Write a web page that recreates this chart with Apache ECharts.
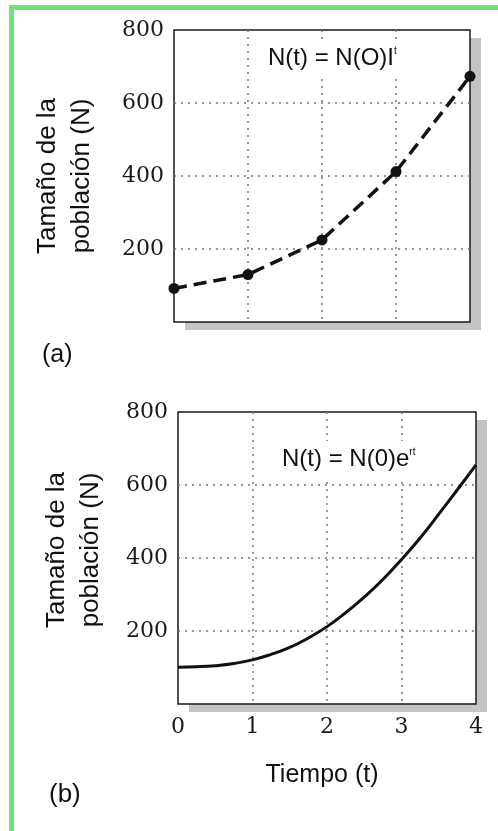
<!DOCTYPE html>
<html>
<head>
<meta charset="utf-8">
<script src="https://cdn.jsdelivr.net/npm/echarts@6/dist/echarts.min.js"></script>
<style>
    html, body { margin: 0; padding: 0; background: #fff; }
    #chart { width: 498px; height: 831px; }
</style>
</head>
<body>
<div id="chart"></div>
<script>
// (a) discrete growth, read from the points
const tiempoA = [0, 1, 2, 3, 4];
const poblacionA = [92, 130, 225, 412, 673];
// (b) continuous growth, every quarter step
const tiempoB = [0, 0.25, 0.5, 0.75, 1, 1.25, 1.5, 1.75, 2, 2.25, 2.5, 2.75, 3, 3.25, 3.5, 3.75, 4];
const poblacionB = [101, 102, 105, 111, 121, 136, 155, 181, 212, 250, 293, 341, 396, 455, 520, 587, 655];
const yTicks = [0, 200, 400, 600, 800];
const xTicks = [0, 1, 2, 3, 4];

const serif = 'DejaVu Serif';
const sans = 'Liberation Sans';
const dotted = {type: [2, 5], color: '#777', width: 1.5};

function pares(xs, ys) {
    return xs.map((x, i) => [x, ys[i]]);
}

function ejeY(idx, visible) {
    return {
        type: 'value', gridIndex: idx, show: visible,
        min: yTicks[0], max: yTicks[yTicks.length - 1], interval: 200,
        axisLine: {show: false}, axisTick: {show: false},
        axisLabel: {
            margin: 10, fontFamily: serif, fontSize: 22, color: '#1a1a1a',
            formatter: v => v === 0 ? '' : String(v)
        },
        splitLine: {show: true, showMinLine: false, showMaxLine: false, lineStyle: dotted}
    };
}

function ejeX(idx, visible, labels) {
    return {
        type: 'value', gridIndex: idx, show: visible,
        min: xTicks[0], max: xTicks[xTicks.length - 1], interval: 1,
        axisLine: {show: false}, axisTick: {show: false},
        axisLabel: {show: labels, margin: 12, fontFamily: serif, fontSize: 22, color: '#1a1a1a'},
        splitLine: {show: true, showMinLine: false, showMaxLine: false, lineStyle: dotted}
    };
}

// grids 0,1 only paint the grey drop shadow, grids 2,3 carry the frame and axes
const sombra = {
    show: true, backgroundColor: '#fff', borderWidth: 0,
    shadowColor: '#c4c4c4', shadowOffsetX: 11, shadowOffsetY: 8, shadowBlur: 0
};
const marco = {
    show: true, backgroundColor: 'transparent',
    borderColor: '#1a1a1a', borderWidth: 1.5
};
const panelA = {left: 174, right: 28, top: 30, height: 292};
const panelB = {left: 178, right: 22, top: 412, height: 292};

function etiqueta(x, y, text, size, extra) {
    return {
        type: 'text', x: x, y: y, z: 10,
        style: Object.assign({
            text: text, fontFamily: sans, fontSize: size, fill: '#111',
            align: 'left', verticalAlign: 'middle'
        }, extra || {})
    };
}

function formula(x, y, base, sup) {
    return {
        type: 'text', x: x, y: y, z: 10,
        style: {
            text: '{m|' + base + '}{s|' + sup + '}',
            align: 'left', verticalAlign: 'middle',
            backgroundColor: '#fff', padding: [6, 6, 6, 6],
            rich: {
                m: {fontFamily: sans, fontSize: 24, lineHeight: 24, fill: '#111'},
                s: {fontFamily: sans, fontSize: 10, lineHeight: 10, verticalAlign: 'top', fill: '#111'}
            }
        }
    };
}

function nombreY(x, y) {
    return {
        type: 'text', x: x, y: y, rotation: Math.PI / 2, z: 10,
        style: {
            text: 'Tamaño de la\npoblación (N)',
            fontFamily: sans, fontSize: 26, lineHeight: 34, fill: '#111',
            align: 'center', verticalAlign: 'middle'
        }
    };
}

const chart = echarts.init(document.getElementById('chart'));
chart.setOption({
    backgroundColor: '#fff',
    animation: false,
    grid: [
        Object.assign({}, panelA, sombra),
        Object.assign({}, panelB, sombra),
        Object.assign({}, panelA, marco),
        Object.assign({}, panelB, marco)
    ],
    xAxis: [ejeX(0, false, false), ejeX(1, false, false), ejeX(2, true, false), ejeX(3, true, true)],
    yAxis: [ejeY(0, false), ejeY(1, false), ejeY(2, true), ejeY(3, true)],
    series: [
        {
            type: 'line', xAxisIndex: 2, yAxisIndex: 2,
            data: pares(tiempoA, poblacionA),
            clip: false,
            symbol: 'circle', symbolSize: 11,
            itemStyle: {color: '#111'},
            lineStyle: {color: '#111', width: 3.5, type: [13, 7]}
        },
        {
            type: 'line', xAxisIndex: 3, yAxisIndex: 3,
            data: pares(tiempoB, poblacionB),
            smooth: 0.5, showSymbol: false,
            lineStyle: {color: '#111', width: 3}
        }
    ],
    graphic: [
        // green frame
        {type: 'rect', shape: {x: 9, y: 5, width: 489, height: 5}, style: {fill: '#74e07a'}, z: 20},
        {type: 'rect', shape: {x: 9, y: 5, width: 5, height: 826}, style: {fill: '#74e07a'}, z: 20},
        nombreY(65, 176),
        nombreY(74, 550),
        formula(262, 58, 'N(t) = N(O)I', 't'),
        formula(276, 459, 'N(t) = N(0)e', 'rt'),
        etiqueta(42, 355, '(a)', 25),
        etiqueta(49, 795, '(b)', 26),
        etiqueta(322, 775, 'Tiempo (t)', 25, {align: 'center'})
    ]
});
</script>
</body>
</html>
